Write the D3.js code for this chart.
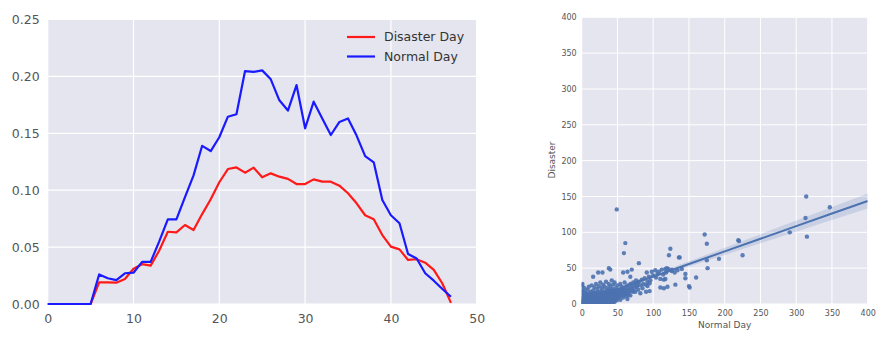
<!DOCTYPE html>
<html>
<head>
<meta charset="utf-8">
<script src="https://cdn.jsdelivr.net/npm/d3@7"></script>
<style>
  html, body { margin: 0; padding: 0; background: #fff; }
  svg { display: block; font-family: "DejaVu Sans", sans-serif; }
</style>
</head>
<body>
<svg id="chart" width="881" height="338"></svg>
<script>
// ---- Left panel: share of tweets per hour-bin, disaster vs normal day ----
const hours = d3.range(0, 48);
const disasterShare = [0, 0, 0, 0, 0, 0, 0.019, 0.019, 0.0187, 0.022, 0.031, 0.035, 0.0337, 0.047,
  0.0635, 0.063, 0.0694, 0.065, 0.079, 0.092, 0.107, 0.1186, 0.120, 0.1154, 0.1198, 0.1113,
  0.1148, 0.1119, 0.110, 0.1054, 0.1054, 0.1095, 0.1075, 0.1075, 0.104, 0.0973, 0.0885,
  0.078, 0.0744, 0.0606, 0.0504, 0.048, 0.0387, 0.0393, 0.0363, 0.030, 0.018, 0.001];
const normalShare = [0, 0, 0, 0, 0, 0, 0.026, 0.0226, 0.021, 0.027, 0.0275, 0.037, 0.037, 0.055,
  0.0744, 0.0744, 0.094, 0.113, 0.139, 0.1344, 0.1465, 0.1646, 0.1667, 0.2047, 0.204, 0.2053,
  0.1974, 0.179, 0.170, 0.1924, 0.1544, 0.1778, 0.163, 0.1485, 0.160, 0.163, 0.148, 0.130,
  0.1245, 0.0914, 0.078, 0.0709, 0.044, 0.040, 0.027, 0.0205, 0.0132, 0.0064];
const leftXTicks = [0, 10, 20, 30, 40, 50];
const leftYTicks = [0, 0.05, 0.10, 0.15, 0.20, 0.25];
const seriesNames = ["Disaster Day", "Normal Day"];
const seriesColors = ["#ff1a1a", "#1a1aff"];

// ---- Right panel: per-item counts, normal day vs disaster day ----
const normalCount = [
  0,1,2,3,4,5,6,7,8,9,10,11,12,13,14,15,16,17,18,19,20,21,22,23,24,25,26,27,28,29,30,31,32,33,34,35,36,37,38,39,40,41,42,43,44,45,46,47,48,50,
  0,1,2,3,4,5,6,7,8,9,10,11,12,13,14,15,16,17,18,19,20,21,22,23,24,25,26,27,28,29,30,31,32,33,34,35,36,37,38,39,40,41,42,43,44,45,
  2,4,6,8,10,12,14,16,18,20,22,24,26,28,30,32,34,36,38,40,42,44,46,48,50,52,54,55,56,58,60,62,64,66,68,70,72,74,76,78,80,84,86,88,94,96,100,104,106,114,118,126,130,134,140,
  1,3,5,7,9,11,13,15,17,19,21,23,25,27,29,31,33,35,37,39,41,43,45,47,49,52,54,56,58,60,62,64,66,68,70,0,0,1,2,3,5,6,8,10,12,14,16,18,20,22,24,26,28,30,32,34,36,38,40,42,44,46,48,50,53,57,61,65,69,73,75,77,79,82,85,90,92,0,1,
  0,2,3,4,5,6,7,8,9,10,11,12,13,14,15,16,17,18,19,20,21,22,23,24,25,26,27,28,29,30,31,32,33,34,35,36,37,38,39,40,41,42,43,44,45,46,47,48,49,51,53,55,57,59,61,63,
  49,314,313,347,291,315,172,175,219,220,225,192,175,176,160,145,145,150,151,131,136,137,124,122,61,59,80,38,40,23,29,16,1,70,64,58,68,91,98,103,112,117,119,121,108,110,115,117,120,110,115,95,92,90,95,77,82,72,65,126
];
const disasterCount = [
  0,0,1,0,2,1,0,3,1,2,0,4,2,1,3,5,2,0,4,3,1,5,2,6,3,1,4,7,2,5,3,6,8,4,2,7,5,9,3,6,8,4,10,7,5,9,11,6,12,8,
  5,8,6,10,7,12,9,6,11,8,13,9,7,11,14,9,12,8,15,10,13,11,16,12,9,14,17,11,15,13,18,10,14,16,12,19,15,13,17,20,14,18,16,21,13,19,
  18,22,15,20,24,17,26,19,23,28,21,25,30,22,27,24,31,22,28,25,33,27,30,22,26,20,28,17,24,21,30,19,26,22,28,24,30,27,33,29,31,34,28,36,38,33,40,37,42,41,44,46,44,47,49,
  2,4,3,1,5,2,6,1,4,7,2,3,8,4,9,2,11,3,6,1,10,2,4,14,5,10,6,13,9,15,11,7,16,12,18,12,20,15,3,14,16,4,6,7,4,9,6,8,5,9,6,11,7,12,5,9,10,12,3,7,10,3,17,14,18,21,23,19,21,22,17,25,20,26,22,27,31,27,25,
  3,9,6,11,7,13,10,3,12,4,14,10,8,5,11,15,9,1,13,9,16,6,10,14,5,8,15,11,2,8,14,11,7,16,11,1,16,8,11,18,7,13,11,17,14,8,10,15,9,12,15,11,16,13,18,14,
  132,150,120,135,100,94,97,84,89,88,68,63,61,50,37,42,36,25,23,27,65,65,77,68,85,71,57,50,48,44,44,38,28,48,45,44,38,44,45,47,48,49,50,49,45,35,34,35,24,23,22,29,25,17,18,24,15,17,13,48
];
// Fitted regression line with its confidence band
const fitX = [0, 50, 100, 150, 200, 250, 300, 350, 400];
const fitY = [3, 20.6, 38.2, 55.8, 73.4, 91, 108.6, 126.2, 143.8];
const fitLow = [1.6, 19.1, 35.7, 52.0, 68.3, 84.6, 100.8, 117.1, 133.3];
const fitHigh = [4.4, 22.1, 40.7, 59.6, 78.5, 97.4, 116.4, 135.3, 154.3];
const rightTicks = [0, 50, 100, 150, 200, 250, 300, 350, 400];

const svg = d3.select("#chart");
const bg = "#e5e5ef";
const textColor = "#555";

// ---------------- left panel ----------------
const L = { left: 47.7, right: 476.7, top: 19.5, bottom: 304 };
const xL = d3.scaleLinear().domain([0, 50]).range([L.left, L.right]);
const yL = d3.scaleLinear().domain([0, 0.25]).range([L.bottom, L.top]);
const gL = svg.append("g");
gL.append("rect").attr("x", L.left).attr("y", L.top)
  .attr("width", L.right - L.left).attr("height", L.bottom - L.top).attr("fill", bg);
gL.selectAll("line.gx").data(leftXTicks).join("line")
  .attr("x1", d => xL(d)).attr("x2", d => xL(d)).attr("y1", L.top).attr("y2", L.bottom)
  .attr("stroke", "#fff").attr("stroke-width", 1.2);
gL.selectAll("line.gy").data(leftYTicks).join("line")
  .attr("y1", d => yL(d)).attr("y2", d => yL(d)).attr("x1", L.left).attr("x2", L.right)
  .attr("stroke", "#fff").attr("stroke-width", 1.2);

const axBL = gL.append("g").attr("transform", `translate(0,${L.bottom})`)
  .call(d3.axisBottom(xL).tickValues(leftXTicks).tickSize(0).tickPadding(10).tickFormat(d3.format("d")));
const axLL = gL.append("g").attr("transform", `translate(${L.left},0)`)
  .call(d3.axisLeft(yL).tickValues(leftYTicks).tickSize(0).tickPadding(8).tickFormat(d3.format(".2f")));
[axBL, axLL].forEach(a => {
  a.select(".domain").remove();
  a.selectAll("text").attr("fill", textColor).style("font-size", "12.5px")
    .style("font-family", "'DejaVu Sans', sans-serif");
});

const lineL = d3.line().x((d, i) => xL(hours[i])).y(d => yL(d));
[disasterShare, normalShare].forEach((s, k) => {
  gL.append("path").datum(s).attr("d", lineL).attr("fill", "none")
    .attr("stroke", seriesColors[k]).attr("stroke-width", 2.2).attr("stroke-linejoin", "round");
});

// legend
const leg = gL.append("g");
seriesNames.forEach((name, k) => {
  const y = 37 + k * 19.5;
  leg.append("line").attr("x1", 347).attr("x2", 375).attr("y1", y).attr("y2", y)
    .attr("stroke", seriesColors[k]).attr("stroke-width", 2.2);
  leg.append("text").attr("x", 384).attr("y", y).attr("dy", "0.35em")
    .attr("fill", "#333").style("font-size", "12.5px").text(name);
});

// ---------------- right panel ----------------
const R = { left: 581.7, right: 867.7, top: 17.3, bottom: 304 };
const xR = d3.scaleLinear().domain([0, 400]).range([R.left, R.right]);
const yR = d3.scaleLinear().domain([0, 400]).range([R.bottom, R.top]);
const gR = svg.append("g");
gR.append("rect").attr("x", R.left).attr("y", R.top)
  .attr("width", R.right - R.left).attr("height", R.bottom - R.top).attr("fill", bg);
gR.selectAll("line.gx").data(rightTicks).join("line")
  .attr("x1", d => xR(d)).attr("x2", d => xR(d)).attr("y1", R.top).attr("y2", R.bottom)
  .attr("stroke", "#fff").attr("stroke-width", 1);
gR.selectAll("line.gy").data(rightTicks).join("line")
  .attr("y1", d => yR(d)).attr("y2", d => yR(d)).attr("x1", R.left).attr("x2", R.right)
  .attr("stroke", "#fff").attr("stroke-width", 1);

const axBR = gR.append("g").attr("transform", `translate(0,${R.bottom})`)
  .call(d3.axisBottom(xR).tickValues(rightTicks).tickSize(0).tickPadding(6).tickFormat(d3.format("d")));
const axLR = gR.append("g").attr("transform", `translate(${R.left},0)`)
  .call(d3.axisLeft(yR).tickValues(rightTicks).tickSize(0).tickPadding(5).tickFormat(d3.format("d")));
[axBR, axLR].forEach(a => {
  a.select(".domain").remove();
  a.selectAll("text").attr("fill", textColor).style("font-size", "8px")
    .style("font-family", "'DejaVu Sans', sans-serif");
});
gR.append("text").attr("x", (R.left + R.right) / 2).attr("y", 325).attr("dy", "0.35em")
  .attr("text-anchor", "middle").attr("fill", textColor).style("font-size", "9px").text("Normal Day");
gR.append("text").attr("transform", `translate(552,${160}) rotate(-90)`).attr("dy", "0.35em")
  .attr("text-anchor", "middle").attr("fill", textColor).style("font-size", "9px").text("Disaster");

const clip = gR.append("clipPath").attr("id", "clipR");
clip.append("rect").attr("x", R.left).attr("y", R.top)
  .attr("width", R.right - R.left).attr("height", R.bottom - R.top);
const plot = gR.append("g").attr("clip-path", "url(#clipR)");

const dotColor = "#4c72b0";
plot.selectAll("circle").data(normalCount.map((x, i) => [x, disasterCount[i]])).join("circle")
  .attr("cx", d => xR(d[0])).attr("cy", d => yR(d[1])).attr("r", 2.2)
  .attr("fill", dotColor).attr("fill-opacity", 0.9);

const band = d3.area().x((d, i) => xR(fitX[i])).y0((d, i) => yR(fitLow[i])).y1((d, i) => yR(fitHigh[i]))
  .curve(d3.curveMonotoneX);
plot.append("path").datum(fitX).attr("d", band).attr("fill", dotColor).attr("fill-opacity", 0.18);
const fitLine = d3.line().x((d, i) => xR(fitX[i])).y(d => yR(d));
plot.append("path").datum(fitY).attr("d", fitLine).attr("fill", "none")
  .attr("stroke", dotColor).attr("stroke-width", 2);
</script>
</body>
</html>
